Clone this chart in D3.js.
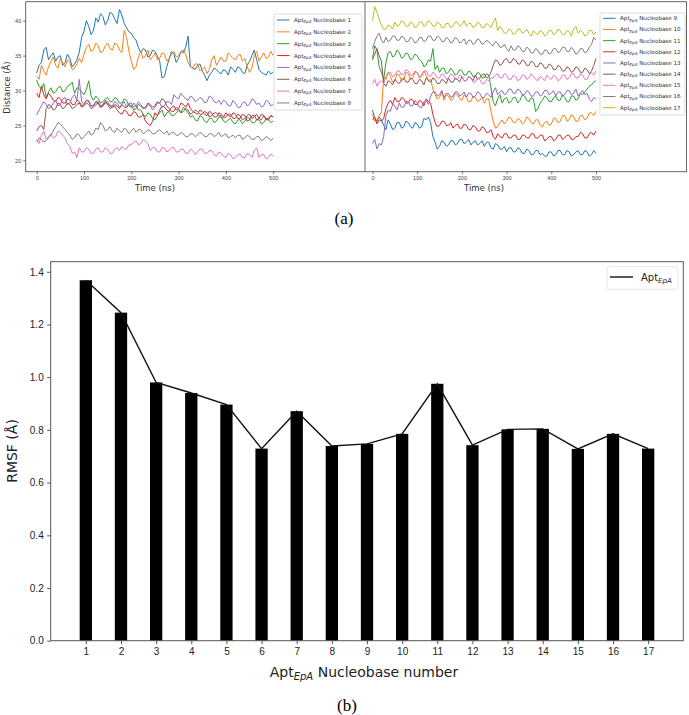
<!DOCTYPE html>
<meta charset="utf-8">
<head>
<script src="https://cdnjs.cloudflare.com/ajax/libs/d3/7.8.5/d3.min.js"></script>
<style>
body { margin: 0; background: #fff; }
svg { display: block; font-family: "DejaVu Sans", sans-serif; }
.top-axis text { font-size: 5.5px; fill: #444; }
.top-axis path, .top-axis line { stroke: #555; stroke-width: 0.8; }
.bot-axis text { font-size: 10px; fill: #222; }
.bot-axis path, .bot-axis line { stroke: #555; stroke-width: 1; }
.caption { font-family: "Liberation Serif", "Times New Roman", serif; font-size: 17px; fill: #000; }
</style>
</head>
<body>
<svg id="chart" width="689" height="715"></svg>
<script>

// time axis, every 5 ns
var times = d3.range(0, 501, 5);

// panel (a) left: nucleobases 1-8 distance (A)
var nb1 = [32.5,33.6,34.0,35.8,36.2,34.4,35.0,35.4,34.2,34.8,35.0,33.6,34.0,35.2,34.6,33.4,33.8,34.4,35.5,37.6,38.5,40.0,39.2,38.0,38.6,40.4,39.8,41.0,40.6,39.4,40.0,41.2,41.0,40.2,39.6,41.6,40.8,39.6,39.0,38.4,38.2,37.6,37.2,36.2,35.4,36.0,35.8,34.8,35.0,35.8,35.6,35.0,34.2,31.8,32.0,33.4,34.5,35.6,35.2,34.0,34.6,35.6,35.4,36.2,37.8,33.4,33.2,33.0,33.6,33.8,32.8,32.2,31.4,32.2,32.6,33.2,33.0,32.6,32.4,33.0,32.8,32.2,33.4,33.0,32.6,33.4,33.2,32.6,32.4,33.6,34.2,35.0,35.8,34.4,33.0,32.6,32.4,32.2,32.8,32.4,32.6];
var nb2 = [32.0,31.6,33.6,32.8,32.2,33.4,34.2,34.8,33.6,33.2,34.6,34.0,33.4,34.4,34.0,33.0,33.2,33.8,34.6,34.0,35.2,36.2,36.6,35.6,35.8,36.8,36.4,35.4,35.6,36.4,36.8,36.0,35.8,36.8,36.6,35.8,35.4,38.6,37.6,35.6,34.2,33.0,33.4,34.8,35.6,34.6,35.0,35.8,34.4,34.8,35.4,34.4,34.6,35.4,35.2,34.2,34.6,35.2,35.6,34.8,35.0,35.6,35.8,35.2,34.0,33.4,33.2,33.8,33.8,32.8,33.0,33.4,32.4,33.0,34.4,35.0,33.6,34.2,34.8,34.2,34.2,35.4,35.0,34.6,34.4,35.0,35.2,34.2,34.6,33.4,32.6,33.2,35.0,35.6,34.2,34.8,35.4,34.6,34.8,35.6,35.0];
var nb3 = [31.5,30.6,30.2,31.0,29.0,29.8,30.4,29.6,29.8,30.4,30.6,29.8,30.0,30.6,30.8,31.2,29.6,30.4,30.2,29.8,29.4,30.2,31.4,29.2,28.6,29.2,28.8,28.2,28.4,28.8,29.0,28.4,28.4,29.0,28.8,28.2,28.2,28.8,28.6,27.8,27.6,28.2,27.8,27.2,27.2,26.6,26.2,26.8,26.6,26.0,25.8,26.4,26.8,27.2,26.2,26.8,27.0,26.4,26.4,26.8,27.2,26.8,27.6,27.2,26.8,26.2,26.4,25.8,25.6,26.4,26.2,25.6,25.4,26.0,26.0,25.4,25.6,26.2,26.2,25.6,25.4,25.8,26.0,25.4,25.2,25.8,25.8,25.2,25.6,26.2,26.0,25.4,25.4,25.8,25.8,25.2,25.4,26.0,25.8,25.4,25.6];
var nb4 = [29.6,29.0,30.6,29.4,28.8,29.6,29.2,28.6,28.4,29.0,28.8,28.2,28.2,28.8,28.6,28.0,28.0,28.6,28.4,27.8,28.0,28.6,28.4,27.8,27.8,28.4,28.2,27.6,27.8,28.4,28.2,27.8,27.6,27.8,27.2,26.8,26.6,27.2,27.0,26.4,26.4,27.0,26.8,26.2,26.2,26.6,25.6,25.2,25.0,25.6,26.8,26.4,27.2,27.8,27.6,27.2,27.0,27.6,27.8,27.2,27.4,28.2,28.0,27.6,28.2,27.4,27.0,26.8,26.6,27.2,27.0,26.6,26.4,27.0,26.8,26.2,26.2,26.8,26.6,26.2,26.8,26.4,26.2,26.8,26.6,26.0,26.0,26.6,26.4,25.6,25.8,26.4,26.4,25.8,26.0,26.6,26.4,25.8,25.8,26.4,26.2];
var nb5 = [26.5,27.2,27.8,28.4,28.0,27.4,27.6,28.2,28.6,27.8,28.0,28.8,29.0,28.0,28.2,29.0,29.4,28.6,31.6,28.4,28.0,28.6,28.6,27.8,27.8,28.4,28.4,27.8,28.0,28.6,28.4,27.8,27.8,28.4,28.2,27.6,28.0,28.4,27.6,28.2,28.2,27.6,27.8,28.4,28.0,27.6,27.4,28.0,27.8,27.2,27.6,28.2,28.2,27.6,27.8,28.4,28.4,28.0,29.4,29.0,28.8,29.6,29.2,28.8,28.6,29.2,29.0,28.4,28.6,29.0,28.8,28.2,28.4,29.2,29.0,28.4,28.2,28.6,28.0,28.6,28.4,27.8,27.8,28.6,28.2,27.6,27.6,28.2,28.4,27.8,28.0,28.8,28.6,28.0,28.2,27.6,27.8,28.6,28.4,27.8,28.0];
var nb6 = [24.2,24.8,25.0,24.4,27.4,28.0,27.8,27.2,27.4,28.2,28.0,27.4,27.6,28.2,28.0,27.4,27.6,28.0,28.2,27.6,27.8,28.2,28.0,27.4,27.6,28.0,28.2,27.6,27.8,28.2,28.0,27.4,27.6,28.0,27.8,27.4,28.0,27.6,27.6,28.0,27.8,27.2,27.4,28.0,27.8,27.4,27.6,28.2,28.0,27.6,27.8,28.4,28.2,28.8,28.6,27.8,27.4,27.0,27.0,27.6,27.4,26.8,27.0,27.4,27.2,26.6,26.8,27.2,27.0,26.6,26.6,27.0,26.8,26.2,26.4,26.8,26.8,26.4,26.4,26.0,26.2,26.6,26.6,26.0,26.0,26.6,26.4,25.8,26.0,26.4,26.6,26.0,26.2,26.6,26.0,25.8,26.4,26.0,26.0,26.4,26.2];
var nb7 = [23.0,22.4,23.6,24.2,23.0,23.4,23.8,23.2,23.4,24.2,24.0,23.6,23.2,22.4,22.0,21.0,21.2,20.4,21.8,21.2,21.2,21.8,21.6,21.0,21.0,21.6,21.8,21.2,21.2,21.8,21.6,21.0,21.0,21.6,21.8,21.4,22.0,21.6,21.6,22.2,22.2,22.6,22.8,22.2,22.4,23.0,22.8,22.4,21.4,21.8,21.8,21.2,21.2,21.8,21.8,21.2,21.4,21.8,21.8,21.2,21.2,21.6,21.6,21.0,21.0,21.6,21.4,20.8,21.2,21.6,21.6,21.0,21.0,21.4,21.4,20.8,20.6,21.2,21.0,20.6,20.4,21.0,20.8,20.2,20.4,20.8,20.9,20.4,20.4,21.0,20.8,20.4,21.4,21.8,20.4,20.8,20.8,20.2,20.4,20.9,20.6];
var nb8 = [22.6,23.2,23.0,22.6,22.8,23.2,23.6,24.2,24.8,25.4,25.2,24.8,24.4,24.0,23.6,23.0,23.2,23.8,23.6,23.0,23.4,23.8,24.2,23.6,23.8,24.6,24.4,25.4,25.0,24.2,24.4,24.8,24.2,24.0,24.6,24.2,24.0,24.6,24.4,23.8,24.2,24.6,24.0,24.4,24.4,23.8,24.0,24.4,24.2,23.8,23.8,24.2,24.4,24.0,23.8,24.2,23.6,24.0,24.0,23.6,23.6,24.0,23.8,23.4,23.4,23.8,23.8,23.4,23.6,24.0,23.8,23.4,23.4,23.8,23.8,23.4,23.6,24.0,23.4,23.6,23.8,23.2,23.4,23.6,23.2,23.6,23.6,23.0,23.2,23.6,23.4,23.0,23.0,23.4,23.4,22.8,23.0,23.4,23.2,22.8,23.2];

// panel (a) right: nucleobases 9-17
var nb9  = [27.2,26.0,25.6,26.2,25.8,25.0,24.4,25.8,25.2,24.4,24.6,25.4,25.4,24.6,24.8,25.6,25.4,24.8,24.6,25.4,25.2,24.6,24.8,26.0,25.8,26.2,25.4,23.4,22.6,21.6,22.0,22.8,22.6,22.0,22.2,22.8,22.8,22.2,22.4,23.0,23.0,22.4,22.6,23.0,22.2,22.6,22.8,22.2,22.4,22.8,22.0,22.6,22.6,21.8,21.6,22.4,22.2,21.6,21.6,22.0,21.2,21.8,21.8,21.2,21.2,21.8,21.6,21.0,21.0,21.6,21.4,20.8,20.8,21.4,21.4,20.8,21.0,20.6,20.6,21.2,21.2,20.6,20.8,21.4,21.4,20.8,20.8,21.4,21.2,20.6,20.8,21.2,21.4,20.8,20.8,21.4,21.2,20.6,20.8,21.4,21.0];
var nb10 = [26.6,25.6,25.8,26.4,27.0,31.8,31.6,32.6,32.0,31.2,31.4,32.4,32.2,31.4,31.6,32.6,32.4,31.6,31.8,32.6,32.6,31.8,32.0,32.8,32.2,31.4,31.6,30.2,29.4,28.8,29.0,29.8,28.6,29.4,29.2,28.6,28.8,29.6,29.4,28.8,28.6,29.4,29.0,28.4,28.4,29.2,29.0,28.4,28.6,29.0,28.2,28.8,28.8,27.0,25.6,24.6,24.8,25.4,25.8,25.2,25.6,26.2,26.0,25.4,25.4,26.0,25.8,25.2,25.4,26.2,26.0,25.4,25.2,25.8,25.8,25.0,24.8,25.4,25.6,25.0,25.2,26.0,26.0,25.4,25.6,26.4,26.4,25.6,25.8,26.6,26.2,25.6,25.6,26.4,26.4,25.8,26.0,26.8,26.8,26.4,27.0];
var nb11 = [34.6,36.4,35.8,33.4,32.6,31.6,34.0,35.4,35.6,34.8,35.0,35.8,35.4,34.6,34.8,35.4,35.2,34.4,34.6,35.2,35.0,34.4,34.2,33.4,33.6,34.4,34.2,36.0,33.0,33.6,32.6,33.2,33.2,32.4,32.6,33.2,32.8,32.2,32.4,33.0,32.8,32.2,32.2,32.8,32.6,32.0,32.0,32.6,32.4,31.8,31.8,32.4,32.2,30.4,28.4,27.8,28.8,29.4,28.2,28.8,29.0,28.2,28.4,29.0,29.0,28.2,28.6,29.4,29.2,28.6,28.4,29.0,28.8,27.0,27.4,28.2,28.6,29.2,29.0,28.4,28.4,29.0,29.2,28.6,28.6,29.4,29.0,28.4,28.4,29.2,29.2,28.6,28.8,29.6,29.4,29.8,30.2,30.6,30.8,31.2,31.4];
var nb12 = [25.8,26.2,25.2,25.8,25.6,26.0,27.4,28.2,28.6,28.0,29.0,28.4,28.4,29.0,28.8,28.2,28.2,28.8,28.6,28.0,28.0,28.6,28.4,27.8,28.8,28.4,28.2,26.6,25.4,24.8,25.0,25.6,25.6,25.0,25.0,25.4,24.6,25.0,25.2,24.6,24.6,25.2,25.0,24.4,24.4,25.0,24.8,24.2,24.2,24.8,24.6,24.0,24.0,24.4,23.4,23.0,23.8,23.4,23.2,23.8,23.8,23.2,23.2,23.6,23.6,23.0,23.0,23.6,23.6,23.2,23.2,23.8,23.8,23.2,23.2,23.6,23.6,22.8,23.0,23.4,23.4,22.8,23.0,23.6,23.6,23.0,23.2,23.6,23.6,23.0,23.0,23.4,23.4,24.0,23.8,23.2,23.2,23.8,24.0,23.6,24.2];
var nb13 = [22.4,23.0,21.6,22.4,22.2,23.4,26.4,27.2,27.0,28.0,27.8,27.2,28.2,27.6,27.6,28.4,28.4,27.8,27.8,28.6,28.2,27.6,27.6,28.4,28.6,28.0,29.2,29.8,29.8,29.2,29.4,30.0,29.0,29.6,29.6,29.0,29.2,29.8,29.8,29.2,29.4,29.8,29.0,29.6,29.6,29.0,29.2,29.8,29.6,29.0,29.0,29.6,29.4,29.0,29.8,30.4,29.4,29.8,30.0,29.4,29.6,30.2,30.2,29.6,29.6,30.2,30.0,29.4,29.4,30.0,29.8,29.2,29.2,29.8,29.8,29.2,29.4,30.0,30.0,29.4,29.6,30.0,29.2,29.8,29.8,29.2,29.4,30.0,30.0,29.4,29.6,30.2,29.2,29.6,30.0,29.4,29.6,28.8,28.4,29.0,28.8];
var nb14 = [34.4,35.2,36.0,35.0,34.2,31.0,30.6,31.4,31.2,30.8,31.6,31.2,31.0,31.6,31.8,31.2,31.2,31.8,31.6,31.0,31.0,31.6,31.4,30.8,31.8,31.4,31.2,31.8,31.6,31.0,31.0,31.6,31.4,31.0,31.8,31.2,31.2,31.8,31.6,31.2,32.0,31.4,31.4,32.0,31.8,31.4,32.2,31.6,31.8,32.2,32.4,31.8,32.0,32.6,33.6,34.4,34.2,33.6,33.8,34.4,34.6,34.0,34.0,34.6,34.4,33.8,33.8,34.4,34.2,33.6,33.6,34.2,34.0,33.4,33.4,34.0,33.8,33.2,33.2,33.8,33.6,33.0,33.0,33.6,33.4,32.8,32.8,33.4,33.2,32.6,32.8,33.4,33.2,32.6,32.6,33.2,33.0,32.4,32.8,33.6,34.6];
var nb15 = [31.0,31.6,30.6,31.2,31.4,31.0,32.0,32.6,32.6,32.0,32.2,32.8,32.8,32.2,32.4,33.0,32.8,32.2,32.2,32.8,32.6,32.0,32.2,32.8,32.8,32.2,32.0,32.6,32.4,31.8,31.8,32.4,32.2,31.6,31.8,32.4,32.2,31.6,31.6,32.2,32.0,31.4,31.4,32.0,31.8,31.2,31.2,31.8,31.6,31.0,31.0,31.6,31.4,31.8,31.8,32.2,32.4,31.8,31.8,32.4,32.2,31.6,31.6,32.2,32.0,31.4,31.6,32.2,32.2,31.6,31.8,32.4,32.0,31.6,31.4,32.0,31.8,31.4,32.2,31.8,31.6,32.2,32.0,31.4,31.6,32.2,32.2,31.6,31.8,32.4,32.4,31.8,31.8,32.4,32.2,31.6,31.6,32.2,32.6,32.2,32.8];
var nb16 = [36.0,37.0,37.8,38.2,37.2,36.8,37.6,37.0,37.2,37.8,37.8,37.2,37.2,37.8,37.6,37.0,37.0,37.6,37.4,36.8,37.0,37.6,37.6,37.0,37.2,37.8,37.8,37.2,37.2,37.8,37.6,37.0,37.0,37.6,37.4,36.8,37.0,37.6,37.4,36.8,37.0,37.4,36.6,37.2,37.2,36.6,36.8,37.4,37.2,36.6,36.8,37.2,37.0,36.6,36.4,37.0,36.8,36.2,36.2,36.6,36.0,35.6,36.4,35.8,35.8,36.4,36.2,35.6,35.6,36.2,36.0,35.4,35.4,36.0,35.8,35.2,35.2,35.8,35.8,35.2,35.4,36.0,36.0,35.4,35.6,36.2,36.2,35.6,35.6,36.2,35.8,35.2,35.4,36.0,36.0,35.4,35.6,36.2,36.6,37.6,37.2];
var nb17 = [40.0,42.0,41.2,40.2,39.4,38.8,38.8,39.4,39.2,38.8,39.8,39.2,39.4,40.0,39.8,39.2,39.2,39.8,39.6,39.0,39.2,39.8,39.8,39.2,39.4,40.0,39.8,39.2,39.2,39.8,39.6,39.0,39.0,39.6,39.6,39.0,39.2,39.8,39.8,39.2,39.4,40.0,39.2,39.6,39.6,39.0,39.2,39.8,39.6,39.0,39.0,39.6,39.4,39.0,39.8,40.4,38.6,39.2,38.8,38.2,38.2,38.8,38.6,38.0,38.2,38.8,38.8,38.2,38.4,38.8,38.2,37.8,38.6,38.2,38.0,38.6,38.4,37.8,38.0,38.6,38.6,38.0,38.2,38.8,38.6,38.0,38.0,38.6,38.4,37.8,38.8,39.2,38.2,38.6,38.4,37.8,38.0,38.6,38.6,38.0,38.4];

var leftSeries = [nb1, nb2, nb3, nb4, nb5, nb6, nb7, nb8];
var rightSeries = [nb9, nb10, nb11, nb12, nb13, nb14, nb15, nb16, nb17];
var leftNames = ["1","2","3","4","5","6","7","8"];
var rightNames = ["9","10","11","12","13","14","15","16","17"];
var colors = ["#1f77b4","#ff7f0e","#2ca02c","#d62728","#9467bd","#8c564b","#e377c2","#7f7f7f","#bcbd22"];

var timeTicks = [0, 100, 200, 300, 400, 500];
var distTicks = [20, 25, 30, 35, 40];

// panel (b): RMSF per nucleobase
var nucleobases = d3.range(1, 18);
var rmsf = [1.368,1.245,0.980,0.940,0.896,0.729,0.871,0.739,0.747,0.785,0.975,0.742,0.802,0.804,0.728,0.785,0.729];
var rmsfTicks = [0.0, 0.2, 0.4, 0.6, 0.8, 1.0, 1.2, 1.4];

var svg = d3.select("#chart");

// ---------- panel (a) ----------
var yDist = d3.scaleLinear().domain([20, 40]).range([160.3, 20.7]);
var xLeft = d3.scaleLinear().domain([0, 500]).range([36.7, 273.2]);
var xRight = d3.scaleLinear().domain([0, 500]).range([372.5, 596]);

var aTop = 1.7, aBottom = 171.7, aLeft = 25.7, aMid = 365, aRight = 686.5;

function drawLines(series, xs) {
  series.forEach(function(vals, i) {
    var line = d3.line()
      .x(function(d, j) { return xs(times[j]); })
      .y(function(d) { return yDist(d); });
    svg.append("path")
      .datum(vals)
      .attr("d", line)
      .attr("fill", "none")
      .attr("stroke", colors[i])
      .attr("stroke-width", 1);
  });
}
drawLines(leftSeries, xLeft);
drawLines(rightSeries, xRight);

// frame
svg.append("rect")
  .attr("x", aLeft).attr("y", aTop)
  .attr("width", aRight - aLeft).attr("height", aBottom - aTop)
  .attr("fill", "none").attr("stroke", "#555").attr("stroke-width", 0.9);
svg.append("line")
  .attr("x1", aMid).attr("x2", aMid).attr("y1", aTop).attr("y2", aBottom)
  .attr("stroke", "#555").attr("stroke-width", 0.9);

// axes
svg.append("g").attr("class", "top-axis")
  .attr("transform", "translate(0," + aBottom + ")")
  .call(d3.axisBottom(xLeft).tickValues(timeTicks).tickSize(2.5).tickPadding(2))
  .select(".domain").remove();
svg.append("g").attr("class", "top-axis")
  .attr("transform", "translate(0," + aBottom + ")")
  .call(d3.axisBottom(xRight).tickValues(timeTicks).tickSize(2.5).tickPadding(2))
  .select(".domain").remove();
svg.append("g").attr("class", "top-axis")
  .attr("transform", "translate(" + aLeft + ",0)")
  .call(d3.axisLeft(yDist).tickValues(distTicks).tickSize(2.5).tickPadding(2))
  .select(".domain").remove();

svg.append("text").attr("x", 155).attr("y", 190.5)
  .attr("text-anchor", "middle").style("font-size", "8.5px").attr("fill", "#333")
  .text("Time (ns)");
svg.append("text").attr("x", 484).attr("y", 190.5)
  .attr("text-anchor", "middle").style("font-size", "8.5px").attr("fill", "#333")
  .text("Time (ns)");
svg.append("text")
  .attr("transform", "translate(10,87.5) rotate(-90)")
  .attr("text-anchor", "middle").style("font-size", "8.5px").attr("fill", "#333")
  .text("Distance (Å)");

// legends for (a)
function legendA(names, x0, y0, w, h, y1, step) {
  var g = svg.append("g");
  g.append("rect").attr("x", x0).attr("y", y0).attr("width", w).attr("height", h)
    .attr("rx", 1.5).attr("fill", "#fff").attr("fill-opacity", 0.85)
    .attr("stroke", "#ccc").attr("stroke-width", 0.7);
  names.forEach(function(n, i) {
    var yy = y1 + i * step;
    g.append("line").attr("x1", x0 + 3).attr("x2", x0 + 15.5)
      .attr("y1", yy).attr("y2", yy)
      .attr("stroke", colors[i]).attr("stroke-width", 1);
    var t = g.append("text").attr("x", x0 + 20).attr("y", yy + 2)
      .style("font-size", "5.6px").attr("fill", "#333");
    t.append("tspan").text("Apt");
    t.append("tspan").attr("dy", 1.2).style("font-size", "4px").style("font-style", "italic").text("EpA");
    t.append("tspan").attr("dy", -1.2).text(" Nucleobase " + n);
  });
}
legendA(leftNames, 274, 14, 88, 96, 20, 11.85);
legendA(rightNames, 600, 13, 85, 102, 18.3, 11.17);

svg.append("text").attr("class", "caption")
  .attr("x", 344).attr("y", 224).attr("text-anchor", "middle").text("(a)");

// ---------- panel (b) ----------
var bLeft = 50.7, bRight = 683.3, bTop = 261.7, bBottom = 640.7;
var xNb = d3.scaleLinear().domain([0, 18]).range([bLeft, bRight]);
var yR = d3.scaleLinear().domain([0, 1.4]).range([bBottom, 271.8]);
var barW = xNb(0.35) - xNb(0);

svg.selectAll(".bar")
  .data(rmsf)
  .enter().append("rect")
  .attr("class", "bar")
  .attr("x", function(d, i) { return xNb(nucleobases[i]) - barW / 2; })
  .attr("width", barW)
  .attr("y", function(d) { return yR(d); })
  .attr("height", function(d) { return bBottom - yR(d); })
  .attr("fill", "#000");

var rline = d3.line()
  .x(function(d, i) { return xNb(nucleobases[i]); })
  .y(function(d) { return yR(d); });
svg.append("path").datum(rmsf)
  .attr("d", rline).attr("fill", "none")
  .attr("stroke", "#111").attr("stroke-width", 1.4);

svg.append("rect")
  .attr("x", bLeft).attr("y", bTop)
  .attr("width", bRight - bLeft).attr("height", bBottom - bTop)
  .attr("fill", "none").attr("stroke", "#555").attr("stroke-width", 1);

svg.append("g").attr("class", "bot-axis")
  .attr("transform", "translate(0," + bBottom + ")")
  .call(d3.axisBottom(xNb).tickValues(nucleobases).tickSize(3.5).tickPadding(3.5))
  .select(".domain").remove();
svg.append("g").attr("class", "bot-axis")
  .attr("transform", "translate(" + bLeft + ",0)")
  .call(d3.axisLeft(yR).tickValues(rmsfTicks).tickFormat(d3.format(".1f")).tickSize(3.5).tickPadding(3.5))
  .select(".domain").remove();

var xl = svg.append("text").attr("x", 364).attr("y", 677)
  .attr("text-anchor", "middle").style("font-size", "14px").attr("fill", "#222");
xl.append("tspan").text("Apt");
xl.append("tspan").attr("dy", 3).style("font-size", "10px").style("font-style", "italic").text("EpA");
xl.append("tspan").attr("dy", -3).text(" Nucleobase number");

svg.append("text")
  .attr("transform", "translate(17,451) rotate(-90)")
  .attr("text-anchor", "middle").style("font-size", "14px").attr("fill", "#222")
  .text("RMSF (Å)");

// legend (b)
var lg = svg.append("g");
lg.append("rect").attr("x", 607).attr("y", 266.7).attr("width", 71).attr("height", 22.6)
  .attr("rx", 2).attr("fill", "#fff").attr("stroke", "#ddd").attr("stroke-width", 0.8);
lg.append("line").attr("x1", 610).attr("x2", 633).attr("y1", 277).attr("y2", 277)
  .attr("stroke", "#111").attr("stroke-width", 1.4);
var lt = lg.append("text").attr("x", 641).attr("y", 280.5)
  .style("font-size", "10px").attr("fill", "#222");
lt.append("tspan").text("Apt");
lt.append("tspan").attr("dy", 2).style("font-size", "7px").style("font-style", "italic").text("EpA");

svg.append("text").attr("class", "caption")
  .attr("x", 347).attr("y", 711).attr("text-anchor", "middle").text("(b)");

</script>
</body>
